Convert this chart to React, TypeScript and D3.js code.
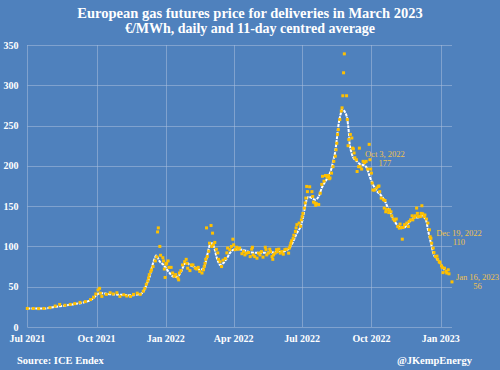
import * as d3 from 'd3'

// daily settlement, €/MWh
const dailyPrices: [string, number][] = [
  ['2021-07-01', 23], ['2021-07-09', 23], ['2021-07-16', 22.8], ['2021-07-23', 23],
  ['2021-07-31', 24], ['2021-08-07', 26], ['2021-08-13', 28], ['2021-08-20', 27],
  ['2021-08-27', 28], ['2021-09-02', 29], ['2021-09-09', 30.5], ['2021-09-16', 31.5],
  ['2021-09-23', 34], ['2021-09-27', 37], ['2021-09-30', 41], ['2021-10-03', 46],
  ['2021-10-05', 48], ['2021-10-06', 42], ['2021-10-08', 38], ['2021-10-14', 40.5],
  ['2021-10-19', 42.5], ['2021-10-23', 41], ['2021-10-28', 42.5], ['2021-11-01', 38],
  ['2021-11-06', 40], ['2021-11-10', 38.5], ['2021-11-15', 38], ['2021-11-19', 40.5],
  ['2021-11-24', 42], ['2021-11-28', 40.5], ['2021-12-02', 44.5], ['2021-12-04', 48],
  ['2021-12-06', 53], ['2021-12-08', 57], ['2021-12-09', 61], ['2021-12-10', 65],
  ['2021-12-12', 69], ['2021-12-13', 71], ['2021-12-15', 75], ['2021-12-18', 82],
  ['2021-12-20', 87], ['2021-12-21', 118], ['2021-12-22', 123], ['2021-12-24', 100],
  ['2021-12-25', 89], ['2021-12-28', 86], ['2021-12-29', 82], ['2021-12-30', 72],
  ['2021-12-31', 61.5], ['2022-01-01', 78], ['2022-01-02', 79], ['2022-01-04', 82],
  ['2022-01-05', 74], ['2022-01-08', 74], ['2022-01-10', 67], ['2022-01-12', 63],
  ['2022-01-14', 65], ['2022-01-17', 61], ['2022-01-18', 58.5], ['2022-01-19', 67],
  ['2022-01-21', 70], ['2022-01-23', 77], ['2022-01-26', 81], ['2022-01-28', 84],
  ['2022-01-29', 79], ['2022-01-30', 73], ['2022-02-02', 70], ['2022-02-04', 77],
  ['2022-02-06', 77], ['2022-02-09', 73], ['2022-02-11', 72], ['2022-02-13', 74],
  ['2022-02-15', 69], ['2022-02-18', 67], ['2022-02-20', 71], ['2022-02-21', 75],
  ['2022-02-22', 79], ['2022-02-23', 84], ['2022-02-24', 123], ['2022-02-25', 87.5],
  ['2022-02-27', 94], ['2022-02-28', 104], ['2022-03-02', 126], ['2022-03-03', 100],
  ['2022-03-04', 116.5], ['2022-03-05', 102], ['2022-03-07', 105], ['2022-03-09', 96.5],
  ['2022-03-11', 92], ['2022-03-12', 84], ['2022-03-14', 81], ['2022-03-16', 75],
  ['2022-03-18', 83], ['2022-03-21', 85], ['2022-03-23', 92], ['2022-03-24', 98],
  ['2022-03-27', 96], ['2022-03-29', 100], ['2022-03-31', 109], ['2022-04-01', 102],
  ['2022-04-03', 96], ['2022-04-05', 99], ['2022-04-07', 96.5], ['2022-04-09', 98],
  ['2022-04-12', 91], ['2022-04-14', 93.6], ['2022-04-16', 89.5], ['2022-04-18', 91.7],
  ['2022-04-21', 92.4], ['2022-04-23', 87.4], ['2022-04-25', 96.6], ['2022-04-26', 99],
  ['2022-04-27', 89.5], ['2022-04-29', 87.4], ['2022-05-02', 85.4], ['2022-05-04', 91.7],
  ['2022-05-06', 89.5], ['2022-05-08', 93.6], ['2022-05-10', 86.7], ['2022-05-13', 99],
  ['2022-05-14', 96], ['2022-05-15', 89.5], ['2022-05-17', 91.7], ['2022-05-19', 96.6],
  ['2022-05-20', 93.6], ['2022-05-22', 87.4], ['2022-05-23', 84], ['2022-05-24', 89.5],
  ['2022-05-26', 91.7], ['2022-05-28', 96], ['2022-05-29', 93.6], ['2022-05-31', 96.6],
  ['2022-06-02', 91.7], ['2022-06-04', 93.6], ['2022-06-06', 90.4], ['2022-06-08', 96],
  ['2022-06-10', 96.6], ['2022-06-13', 91.7], ['2022-06-14', 98], ['2022-06-15', 100.7],
  ['2022-06-16', 104], ['2022-06-17', 107], ['2022-06-19', 110], ['2022-06-20', 114],
  ['2022-06-22', 118.5], ['2022-06-23', 123], ['2022-06-24', 127], ['2022-06-27', 129],
  ['2022-06-29', 125], ['2022-06-30', 133], ['2022-07-01', 137], ['2022-07-02', 141],
  ['2022-07-04', 147.6], ['2022-07-05', 154], ['2022-07-06', 160], ['2022-07-07', 174.5],
  ['2022-07-08', 168], ['2022-07-11', 174], ['2022-07-14', 168], ['2022-07-15', 162],
  ['2022-07-16', 155], ['2022-07-18', 154], ['2022-07-19', 151], ['2022-07-20', 153],
  ['2022-07-23', 152], ['2022-07-25', 166], ['2022-07-27', 177], ['2022-07-28', 187],
  ['2022-07-30', 181], ['2022-08-01', 188], ['2022-08-03', 186], ['2022-08-05', 188],
  ['2022-08-06', 184], ['2022-08-07', 185], ['2022-08-09', 191], ['2022-08-11', 199],
  ['2022-08-12', 205.6], ['2022-08-14', 212], ['2022-08-15', 220], ['2022-08-16', 228],
  ['2022-08-17', 239], ['2022-08-18', 245], ['2022-08-20', 257.5], ['2022-08-22', 268],
  ['2022-08-23', 272], ['2022-08-24', 287], ['2022-08-25', 315.5], ['2022-08-26', 339],
  ['2022-08-29', 287], ['2022-08-30', 257.5], ['2022-08-31', 225], ['2022-09-01', 232.6],
  ['2022-09-03', 239], ['2022-09-05', 234.6], ['2022-09-06', 222], ['2022-09-07', 221],
  ['2022-09-08', 216], ['2022-09-09', 210], ['2022-09-11', 207.6], ['2022-09-12', 193],
  ['2022-09-14', 199], ['2022-09-15', 222], ['2022-09-16', 199], ['2022-09-18', 196],
  ['2022-09-20', 205.6], ['2022-09-22', 204], ['2022-09-24', 205.6], ['2022-09-26', 196],
  ['2022-09-28', 226.7], ['2022-09-29', 207.6], ['2022-09-30', 196], ['2022-10-01', 191],
  ['2022-10-02', 178.7], ['2022-10-03', 170], ['2022-10-05', 170], ['2022-10-08', 172.5],
  ['2022-10-10', 174.5], ['2022-10-11', 175], ['2022-10-12', 168], ['2022-10-14', 160],
  ['2022-10-17', 158], ['2022-10-18', 147.6], ['2022-10-19', 157], ['2022-10-20', 143],
  ['2022-10-21', 146], ['2022-10-24', 142], ['2022-10-25', 145.5], ['2022-10-27', 143],
  ['2022-10-28', 138], ['2022-10-30', 134], ['2022-11-01', 132], ['2022-11-03', 134],
  ['2022-11-05', 124.7], ['2022-11-07', 122.7], ['2022-11-08', 127.7], ['2022-11-10', 123.5],
  ['2022-11-11', 109], ['2022-11-12', 123.5], ['2022-11-14', 127], ['2022-11-17', 129],
  ['2022-11-19', 124.7], ['2022-11-20', 131], ['2022-11-22', 133], ['2022-11-24', 138],
  ['2022-11-25', 133], ['2022-11-27', 136], ['2022-11-28', 138], ['2022-11-30', 147.6],
  ['2022-12-01', 141], ['2022-12-02', 137], ['2022-12-03', 137], ['2022-12-05', 137],
  ['2022-12-06', 141], ['2022-12-07', 150.5], ['2022-12-08', 140.5], ['2022-12-10', 137],
  ['2022-12-11', 139], ['2022-12-13', 134], ['2022-12-15', 129], ['2022-12-17', 120.6],
  ['2022-12-18', 112], ['2022-12-19', 110], ['2022-12-20', 104], ['2022-12-22', 98],
  ['2022-12-23', 92.4], ['2022-12-25', 87.4], ['2022-12-27', 88], ['2022-12-28', 84],
  ['2022-12-30', 81], ['2022-12-31', 80], ['2023-01-02', 76], ['2023-01-03', 74],
  ['2023-01-04', 67.5], ['2023-01-06', 73], ['2023-01-08', 69], ['2023-01-09', 67],
  ['2023-01-11', 71], ['2023-01-12', 66], ['2023-01-16', 56],
]

// 11-day centred average (white line)
const centredAverage: [string, number][] = [
  ['2021-07-01', 23], ['2021-07-24', 23], ['2021-08-07', 25], ['2021-08-20', 26.5],
  ['2021-09-02', 28.5], ['2021-09-16', 31], ['2021-09-24', 34], ['2021-09-29', 38],
  ['2021-10-03', 41], ['2021-10-07', 42], ['2021-10-16', 41], ['2021-11-01', 40],
  ['2021-11-15', 39.5], ['2021-11-28', 41], ['2021-12-03', 45], ['2021-12-06', 52],
  ['2021-12-11', 64], ['2021-12-14', 76], ['2021-12-18', 87], ['2021-12-19', 88.6],
  ['2021-12-24', 81], ['2021-12-29', 77], ['2022-01-01', 73], ['2022-01-06', 67],
  ['2022-01-10', 63], ['2022-01-15', 62], ['2022-01-19', 65], ['2022-01-22', 70],
  ['2022-01-25', 77], ['2022-01-28', 80], ['2022-02-02', 77], ['2022-02-06', 75],
  ['2022-02-11', 73], ['2022-02-15', 71], ['2022-02-20', 73], ['2022-02-22', 77],
  ['2022-02-24', 85], ['2022-02-26', 93.6], ['2022-02-28', 101], ['2022-03-03', 104],
  ['2022-03-05', 102], ['2022-03-07', 96], ['2022-03-09', 88], ['2022-03-12', 80],
  ['2022-03-14', 77], ['2022-03-18', 79], ['2022-03-23', 85], ['2022-03-27', 91.7],
  ['2022-04-01', 96], ['2022-04-07', 96.6], ['2022-04-16', 95], ['2022-04-25', 92.5],
  ['2022-05-06', 92], ['2022-05-20', 92.5], ['2022-06-02', 93], ['2022-06-10', 95],
  ['2022-06-15', 99], ['2022-06-20', 108], ['2022-06-24', 116.5], ['2022-06-29', 125],
  ['2022-07-02', 135], ['2022-07-05', 150], ['2022-07-07', 158], ['2022-07-09', 161.5],
  ['2022-07-14', 160], ['2022-07-18', 158], ['2022-07-23', 162], ['2022-07-27', 172.5],
  ['2022-08-01', 181], ['2022-08-05', 187], ['2022-08-09', 197], ['2022-08-11', 205.6],
  ['2022-08-14', 218], ['2022-08-16', 232.6], ['2022-08-18', 249], ['2022-08-21', 263.7],
  ['2022-08-23', 270], ['2022-08-25', 269], ['2022-08-27', 266.5], ['2022-08-30', 257.5],
  ['2022-09-01', 241], ['2022-09-02', 228], ['2022-09-04', 218], ['2022-09-07', 210],
  ['2022-09-12', 205.6], ['2022-09-16', 202], ['2022-09-21', 201], ['2022-09-25', 197],
  ['2022-09-29', 186], ['2022-10-03', 177], ['2022-10-08', 169], ['2022-10-14', 163],
  ['2022-10-19', 156], ['2022-10-24', 145.5], ['2022-10-28', 138], ['2022-11-01', 131],
  ['2022-11-05', 125.6], ['2022-11-10', 122.7], ['2022-11-14', 123.5], ['2022-11-19', 129],
  ['2022-11-24', 134], ['2022-11-28', 136], ['2022-12-02', 136], ['2022-12-07', 138],
  ['2022-12-10', 136], ['2022-12-13', 131], ['2022-12-15', 121], ['2022-12-18', 108],
  ['2022-12-20', 100], ['2022-12-22', 91.7], ['2022-12-26', 85.4], ['2022-12-30', 81],
  ['2023-01-02', 76], ['2023-01-06', 71],
]

const yTicks = [0, 50, 100, 150, 200, 250, 300, 350]
const xTicks = ['2021-07-01', '2021-10-01', '2022-01-01', '2022-04-01', '2022-07-01', '2022-10-01', '2023-01-01']

const callouts = [
  { date: '2022-10-03', label: 'Oct 3, 2022', value: 177 },
  { date: '2022-12-19', label: 'Dec 19, 2022', value: 110 },
  { date: '2023-01-16', label: 'Jan 16, 2023', value: 56 },
]

const W = 500
const H = 370
const BG = '#4f81bd'
const GOLD = '#ffc000'
const FONT = '"Liberation Serif", "Times New Roman", serif'

const parse = d3.timeParse('%Y-%m-%d')
const fmt = d3.timeFormat('%b %Y')

export default function App() {
  const x = d3
    .scaleTime()
    .domain([parse('2021-07-01')!, parse('2023-01-16')!])
    .range([27.3, 452])
  const y = d3.scaleLinear().domain([0, 350]).range([327, 45])

  const avgLine = d3
    .line<[string, number]>()
    .x((d) => x(parse(d[0])!))
    .y((d) => y(d[1]))
    .curve(d3.curveMonotoneX)

  // label offsets from the point they describe
  const calloutOffsets = [
    { dx: 12, dy: -27 },
    { dx: 28, dy: -2 },
    { dx: 25.5, dy: -2 },
  ]

  return (
    <svg width={W} height={H} style={{ position: 'absolute', left: 0, top: 0, display: 'block' }}>
      <rect width={W} height={H} fill={BG} />

      <text x={250} y={17.5} textAnchor="middle" fill="#fff" fontFamily={FONT} fontWeight="bold" fontSize={14.5}>
        European gas futures price for deliveries in March 2023
      </text>
      <text x={250} y={33} textAnchor="middle" fill="#fff" fontFamily={FONT} fontWeight="bold" fontSize={14}>
        €/MWh, daily and 11-day centred average
      </text>

      {/* grid */}
      <g stroke="#a9bedc" strokeOpacity={0.55} strokeWidth={1}>
        {yTicks.map((t) => (
          <line key={t} x1={27.3} x2={452} y1={Math.round(y(t)) + 0.5} y2={Math.round(y(t)) + 0.5} />
        ))}
        {xTicks.map((t) => {
          const px = Math.round(x(parse(t)!)) + 0.5
          return <line key={t} x1={px} x2={px} y1={y(350)} y2={y(0)} />
        })}
      </g>

      {/* axis labels */}
      <g fill="#fff" fontFamily={FONT} fontWeight="bold" fontSize={10}>
        {yTicks.map((t) => (
          <text key={t} x={18.5} y={y(t) + 3.5} textAnchor="end">
            {t}
          </text>
        ))}
        {xTicks.map((t) => (
          <text key={t} x={x(parse(t)!)} y={342} textAnchor="middle">
            {fmt(parse(t)!)}
          </text>
        ))}
      </g>

      <path d={avgLine(centredAverage) ?? ''} fill="none" stroke="#fff" strokeWidth={2} strokeDasharray="3,1" />

      <g fill={GOLD}>
        {dailyPrices.map((d, i) => (
          <rect key={i} x={x(parse(d[0])!) - 1.5} y={y(d[1]) - 1.5} width={3} height={3} />
        ))}
      </g>

      <g fill="#efc24e" fontFamily={FONT} fontSize={8.5}>
        {callouts.map((c, i) => {
          const cx = x(parse(c.date)!) + calloutOffsets[i].dx
          const cy = y(c.value) + calloutOffsets[i].dy
          return (
            <g key={c.label}>
              <text x={cx} y={cy} textAnchor="middle">
                {c.label}
              </text>
              <text x={cx} y={cy + 9} textAnchor="middle">
                {c.value}
              </text>
            </g>
          )
        })}
      </g>

      <g fill="#fff" fontFamily={FONT} fontWeight="bold" fontSize={10.5}>
        <text x={17} y={364}>
          Source: ICE Endex
        </text>
        <text x={472} y={364} textAnchor="end">
          @JKempEnergy
        </text>
      </g>
    </svg>
  )
}
